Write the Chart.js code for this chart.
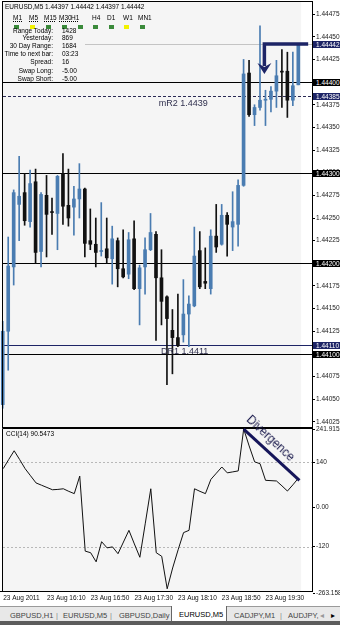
<!DOCTYPE html>
<html>
<head>
<meta charset="utf-8">
<title>EURUSD,M5</title>
<script src="https://cdn.jsdelivr.net/npm/chart.js@4.4.1/dist/chart.umd.min.js"></script>
<style>
  body { margin: 0; width: 340px; height: 625px; position: relative; overflow: hidden; background: #fff; font-family: "Liberation Sans", Arial, sans-serif; }
  canvas { position: absolute; left: 0; }
  .txt { position: absolute; white-space: nowrap; font-size: 6.5px; line-height: 8px; color: #000; }
  .lbl { left: 0; width: 53px; text-align: right; }
  .tf { text-decoration: underline dotted; }
  .sq { position: absolute; width: 5px; height: 4px; }
  .level { position: absolute; white-space: nowrap; font-size: 9px; line-height: 10px; color: #30304e; }
  .pbox { position: absolute; left: 313px; width: 24px; height: 7px; padding-left: 3px; font-size: 6.5px; line-height: 7px; color: #fff; overflow: hidden; white-space: nowrap; }
  #tabs { position: absolute; left: 0; top: 606px; width: 340px; height: 14px; background: #e8e8e8; border-top: 1px solid #9a9a9a; }
  #tabs span { position: absolute; top: 4px; font-size: 7.5px; line-height: 9px; color: #444; white-space: nowrap; }
  #activeTab { position: absolute; left: 171px; top: -1px; width: 54px; height: 15px; background: #fff; border: 1px solid #666; border-top: none; }
  #bottomBar { position: absolute; left: 0; top: 621px; width: 340px; height: 4px; background: #5c5c5c; }
  #divergence { position: absolute; left: 240px; top: 432px; font-size: 12px; line-height: 13px; color: #1b1b4d; transform: rotate(43deg); transform-origin: center; white-space: nowrap; }
</style>
</head>
<body>
<canvas id="priceChart" width="340" height="428" style="top:0"></canvas>
<canvas id="cciChart" width="340" height="181" style="top:424px"></canvas>

<div class="txt" id="header" style="left:5px;top:3px"></div>

<div class="txt tf" style="left:13px;top:14px">M1</div>
<div class="txt tf" style="left:29px;top:14px">M5</div>
<div class="txt tf" style="left:44px;top:14px">M15</div>
<div class="txt tf" style="left:59px;top:14px">M30</div>
<div class="txt tf" style="left:71px;top:14px">H1</div>
<div class="txt" style="left:92px;top:14px">H4</div>
<div class="txt" style="left:107px;top:14px">D1</div>
<div class="txt" style="left:123px;top:14px">W1</div>
<div class="txt" style="left:138px;top:14px">MN1</div>

<div class="sq" style="left:14px;top:25px;background:#3a8a3a"></div>
<div class="sq" style="left:30px;top:25px;background:#f2f200"></div>
<div class="sq" style="left:46px;top:25px;background:#3a8a3a"></div>
<div class="sq" style="left:62px;top:25px;background:#3a8a3a"></div>
<div class="sq" style="left:78px;top:25px;background:#3a8a3a"></div>
<div class="sq" style="left:93px;top:25px;background:#3a8a3a"></div>
<div class="sq" style="left:109px;top:25px;background:#3a8a3a"></div>
<div class="sq" style="left:124px;top:25px;background:#f2f200"></div>
<div class="sq" style="left:140px;top:25px;background:#3a8a3a"></div>

<div class="txt lbl" style="top:27px">Range Today:</div>
<div class="txt lbl" style="top:34px">Yesterday:</div>
<div class="txt lbl" style="top:42px">30 Day Range:</div>
<div class="txt lbl" style="top:50px">Time to next bar:</div>
<div class="txt lbl" style="top:58px">Spread:</div>
<div class="txt lbl" style="top:67px">Swap Long:</div>
<div class="txt lbl" style="top:75px">Swap Short:</div>
<div class="txt" style="left:62px;top:27px">1428</div>
<div class="txt" style="left:62px;top:34px">869</div>
<div class="txt" style="left:62px;top:42px">1684</div>
<div class="txt" style="left:62px;top:50px">03:23</div>
<div class="txt" style="left:62px;top:58px">16</div>
<div class="txt" style="left:62px;top:67px">-5.00</div>
<div class="txt" style="left:62px;top:75px">-5.00</div>

<div class="txt" id="cciLabel" style="left:6px;top:430px"></div>
<div id="divergence">Divergence</div>

<div id="tabs">
  <span style="left:10px">GBPUSD,H1</span>
  <span style="left:56px;color:#888">|</span>
  <span style="left:63px">EURUSD,M5</span>
  <span style="left:110px;color:#888">|</span>
  <span style="left:119px">GBPUSD,Daily</span>
  <div id="activeTab"><span style="left:7px;top:4px;color:#000">EURUSD,M5</span></div>
  <span style="left:234px">CADJPY,M1</span>
  <span style="left:280px;color:#888">|</span>
  <span style="left:288px">AUDJPY,</span>
  <span style="left:320px;color:#999">&#9666;</span>
  <span style="left:331px;color:#000">&#9656;</span>
</div>
<div id="bottomBar"></div>

<script>
// EURUSD M5 candles, 15:30 .. 20:00 (23 Aug 2011)
const candleOpen = [
  1.44044, 1.44125, 1.44196, 1.44265, 1.44278, 1.44246, 1.44290, 1.44213, 1.44275, 1.44257,
  1.44255, 1.44299, 1.44264, 1.44262, 1.44271, 1.44282, 1.44225, 1.44221, 1.44213, 1.44216,
  1.44205, 1.44225, 1.44194, 1.44188, 1.44227, 1.44172, 1.44196, 1.44215, 1.44232, 1.44184,
  1.44163, 1.44126, 1.44118, 1.44121, 1.44144, 1.44153, 1.44214, 1.44180, 1.44172, 1.44230,
  1.44221, 1.44253, 1.44240, 1.44243, 1.44286, 1.44410, 1.44364, 1.44372, 1.44380, 1.44381,
  1.44390, 1.44412, 1.44412, 1.44380, 1.44397
];
const candleHigh = [
  1.44136, 1.44229, 1.44281, 1.44318, 1.44299, 1.44303, 1.44304, 1.44278, 1.44297, 1.44272,
  1.44297, 1.44321, 1.44304, 1.44285, 1.44310, 1.44283, 1.44260, 1.44250, 1.44267, 1.44250,
  1.44241, 1.44228, 1.44237, 1.44234, 1.44247, 1.44198, 1.44228, 1.44255, 1.44235, 1.44215,
  1.44164, 1.44149, 1.44166, 1.44182, 1.44164, 1.44240, 1.44235, 1.44217, 1.44237, 1.44265,
  1.44265, 1.44256, 1.44279, 1.44292, 1.44425, 1.44424, 1.44375, 1.44462, 1.44391, 1.44395,
  1.44424, 1.44436, 1.44433, 1.44433, 1.44442
];
const candleLow = [
  1.44040, 1.44082, 1.44176, 1.44225, 1.44242, 1.44240, 1.44200, 1.44196, 1.44207, 1.44232,
  1.44215, 1.44243, 1.44241, 1.44231, 1.44250, 1.44207, 1.44215, 1.44196, 1.44208, 1.44200,
  1.44177, 1.44174, 1.44184, 1.44183, 1.44171, 1.44132, 1.44166, 1.44214, 1.44115, 1.44132,
  1.44066, 1.44078, 1.44108, 1.44113, 1.44108, 1.44152, 1.44172, 1.44172, 1.44166, 1.44212,
  1.44220, 1.44208, 1.44214, 1.44219, 1.44285, 1.44362, 1.44352, 1.44369, 1.44352, 1.44367,
  1.44372, 1.44372, 1.44361, 1.44374, 1.44397
];
const candleClose = [
  1.44125, 1.44197, 1.44278, 1.44274, 1.44247, 1.44288, 1.44212, 1.44276, 1.44254, 1.44256,
  1.44296, 1.44263, 1.44250, 1.44271, 1.44282, 1.44222, 1.44221, 1.44212, 1.44214, 1.44206,
  1.44227, 1.44194, 1.44185, 1.44226, 1.44172, 1.44195, 1.44215, 1.44234, 1.44184, 1.44158,
  1.44139, 1.44118, 1.44109, 1.44144, 1.44155, 1.44208, 1.44174, 1.44178, 1.44230, 1.44218,
  1.44253, 1.44243, 1.44246, 1.44286, 1.44409, 1.44364, 1.44372, 1.44380, 1.44381, 1.44390,
  1.44407, 1.44411, 1.44380, 1.44396, 1.44442
];
// CCI(14) per bar
const cciValues = [
  120, 148, 175, 148, 120, 98, 76, 69, 62, 55,
  56, 58, 50, 43, 97, -134, -139, -167, -105, -124,
  -121, -142, -106, -70, -112, -153, -48, 58, -139, -150,
  -250, -186, -130, -77, -70, 58, 50, 43, 87, 106,
  125, 107, 110, 113, 241.9152, 190, 141, 135, 84, 83,
  82, 67, 51, 70, 90.5473
];

const priceTicks = [1.44475, 1.44450, 1.44425, 1.44400, 1.44375, 1.44350, 1.44325, 1.44300, 1.44275,
  1.44250, 1.44225, 1.44200, 1.44175, 1.44150, 1.44125, 1.44100, 1.44075, 1.44050, 1.44025];
const cciTicks = [241.9152, 140, 0, -120, -263.158];
const cciTickLabels = ['241.9152', '140', '0.00', '-120', '-263.158'];
const cciLevels = [140, -120];
const timeTickBars = [0, 8, 16, 24, 32, 40, 48];
const timeTickLabels = ['23 Aug 2011', '23 Aug 16:10', '23 Aug 16:50', '23 Aug 17:30', '23 Aug 18:10', '23 Aug 18:50', '23 Aug 19:30'];

const roundLevels = [1.44400, 1.44300, 1.44200, 1.44100];
const bidPrice = 1.44442;
const mR2Price = 1.44385;
const dr1Price = 1.44110;

// hand drawn marks on the screenshot (bar index, value)
const arrowBar = 47.8, arrowEndBar = 55.8, arrowTip = 1.44409;
const divStart = [44, 241.9152], divEnd = [54.2, 84];

// two empty slots on the right = chart shift
const barLabels = candleOpen.map((_, i) => i).concat([55, 56]);

const FONT = '"Liberation Sans", Arial, sans-serif';
const BULL = '#4a7cb1';
const BEAR = '#111111';
const NAVY = '#1d2466';
Chart.defaults.font.family = FONT;

// pixel calibration taken from the reference axis labels
const REF_PRICE = 1.443, REF_Y = 172.7, PX_PER_PRICE = 90600;
const CCI_TOP_Y = 429, CCI_ZERO_Y = 507.6, CCI_PX = 0.3247;

const isBull = candleOpen.map((o, i) => candleClose[i] >= o);

function hLine(ctx, py, x0, x1, color, dash) {
    const yy = Math.round(py) + 0.5;
    ctx.beginPath();
    ctx.setLineDash(dash || []);
    ctx.strokeStyle = color;
    ctx.lineWidth = 1;
    ctx.moveTo(x0, yy);
    ctx.lineTo(x1, yy);
    ctx.stroke();
}

const priceDecor = {
    id: 'priceDecor',
    beforeDraw(chart) {
        const { ctx, chartArea: a, scales: { x } } = chart;
        const shift = x.getPixelForValue(candleClose.length - 1) + 3;
        ctx.save();
        ctx.fillStyle = '#f5f5f5';
        ctx.fillRect(3, 2, shift - 3, 425);
        ctx.fillStyle = '#ffffff';
        ctx.fillRect(shift, 2, a.right - shift, 425);
        ctx.restore();
    },
    beforeDatasetsDraw(chart) {
        const { ctx, chartArea: a, scales: { y } } = chart;
        ctx.save();
        hLine(ctx, y.getPixelForValue(bidPrice), 85, a.right, '#c4c4c4');
        roundLevels.forEach(p => hLine(ctx, y.getPixelForValue(p), 3, a.right, '#000'));
        hLine(ctx, y.getPixelForValue(dr1Price), 3, a.right, NAVY);
        hLine(ctx, y.getPixelForValue(mR2Price), 3, a.right, '#2a2a55', [3, 2]);
        ctx.restore();
    },
    afterDraw(chart) {
        const { ctx, chartArea: a, scales: { x, y } } = chart;
        ctx.save();
        ctx.strokeStyle = '#000';
        ctx.lineWidth = 1;
        ctx.strokeRect(2.5, 1.5, a.right - 2, 426);

        // arrow pointing at the new high
        const sx = x.getPixelForValue(arrowBar);
        const ex = x.getPixelForValue(arrowEndBar);
        const ty = y.getPixelForValue(bidPrice);
        const tip = y.getPixelForValue(arrowTip);
        ctx.strokeStyle = NAVY;
        ctx.fillStyle = NAVY;
        ctx.lineWidth = 3.5;
        ctx.lineJoin = 'miter';
        ctx.beginPath();
        ctx.moveTo(ex, ty);
        ctx.lineTo(sx, ty);
        ctx.lineTo(sx, tip - 8);
        ctx.stroke();
        ctx.beginPath();
        ctx.moveTo(sx - 7, tip - 11);
        ctx.lineTo(sx, tip - 7);
        ctx.lineTo(sx + 7, tip - 11);
        ctx.lineTo(sx, tip);
        ctx.closePath();
        ctx.fill();
        ctx.restore();
    }
};

const cciDecor = {
    id: 'cciDecor',
    beforeDraw(chart) {
        const { ctx, chartArea: a, scales: { x } } = chart;
        const shift = x.getPixelForValue(cciValues.length - 1) + 3;
        ctx.save();
        ctx.fillStyle = '#f5f5f5';
        ctx.fillRect(3, a.top, shift - 3, a.bottom - a.top);
        ctx.fillStyle = '#ffffff';
        ctx.fillRect(shift, a.top, a.right - shift, a.bottom - a.top);
        ctx.restore();
    },
    beforeDatasetsDraw(chart) {
        const { ctx, chartArea: a, scales: { y } } = chart;
        ctx.save();
        cciLevels.forEach(v => hLine(ctx, y.getPixelForValue(v), 3, a.right, '#b8b8b8', [2, 2]));
        ctx.restore();
    },
    afterDraw(chart) {
        const { ctx, chartArea: a, scales: { x, y } } = chart;
        ctx.save();
        ctx.strokeStyle = '#000';
        ctx.lineWidth = 1;
        const top = Math.round(a.top) - 0.5;
        ctx.beginPath();
        ctx.moveTo(2.5, a.bottom);
        ctx.lineTo(2.5, top);
        ctx.lineTo(a.right, top);
        ctx.stroke();

        // divergence trend line
        ctx.strokeStyle = '#15155a';
        ctx.lineWidth = 3;
        ctx.beginPath();
        ctx.moveTo(x.getPixelForValue(divStart[0]), y.getPixelForValue(divStart[1]));
        ctx.lineTo(x.getPixelForValue(divEnd[0]), y.getPixelForValue(divEnd[1]));
        ctx.stroke();
        ctx.restore();
    }
};

const priceChart = new Chart(document.getElementById('priceChart').getContext('2d'), {
    type: 'bar',
    data: {
        labels: barLabels,
        datasets: [{
            label: 'wick',
            data: candleLow.map((l, i) => [l, candleHigh[i]]),
            backgroundColor: isBull.map(b => b ? BULL : BEAR),
            barThickness: 1,
            grouped: false,
            order: 2
        }, {
            label: 'body',
            data: candleOpen.map((o, i) => [o, candleClose[i]]),
            backgroundColor: isBull.map(b => b ? BULL : BEAR),
            barThickness: 3,
            minBarLength: 1,
            grouped: false,
            order: 1
        }]
    },
    options: {
        responsive: false,
        animation: false,
        events: [],
        layout: { padding: 0 },
        plugins: { legend: { display: false }, tooltip: { enabled: false } },
        scales: {
            x: { display: false, offset: true },
            y: {
                position: 'right',
                bounds: 'data',
                min: 1.4402,
                max: 1.4449,
                afterFit: s => { s.width = 28; },
                afterBuildTicks: s => { s.ticks = priceTicks.map(v => ({ value: v })); },
                ticks: {
                    callback: v => Number(v).toFixed(5),
                    font: { size: 6.5 },
                    color: '#1a1a1a',
                    padding: 1
                },
                grid: { drawOnChartArea: false, tickLength: 3, color: '#000' },
                border: { color: '#000' }
            }
        }
    },
    plugins: [priceDecor]
});

const cciChart = new Chart(document.getElementById('cciChart').getContext('2d'), {
    type: 'line',
    data: {
        labels: barLabels,
        datasets: [{
            label: 'CCI(14)',
            data: cciValues,
            borderColor: '#111',
            borderWidth: 1,
            pointRadius: 0,
            tension: 0
        }]
    },
    options: {
        responsive: false,
        animation: false,
        events: [],
        layout: { padding: 0 },
        plugins: { legend: { display: false }, tooltip: { enabled: false } },
        scales: {
            x: {
                offset: true,
                grid: { display: false, drawTicks: false },
                border: { color: '#000' },
                ticks: {
                    autoSkip: false,
                    maxRotation: 0,
                    minRotation: 0,
                    align: 'start',
                    padding: 3,
                    font: { size: 6.5 },
                    color: '#111',
                    callback: (v, i) => {
                        const k = timeTickBars.indexOf(i);
                        return k >= 0 ? timeTickLabels[k] : '';
                    }
                }
            },
            y: {
                position: 'right',
                bounds: 'data',
                min: -263.158,
                max: 241.9152,
                afterFit: s => { s.width = 28; },
                afterBuildTicks: s => { s.ticks = cciTicks.map(v => ({ value: v })); },
                ticks: {
                    callback: (v, i) => cciTickLabels[i],
                    font: { size: 6.5 },
                    color: '#1a1a1a',
                    padding: 1
                },
                grid: { drawOnChartArea: false, tickLength: 3, color: '#000' },
                border: { color: '#000' }
            }
        }
    },
    plugins: [cciDecor]
});

// match the price/pixel scale of the reference
function calibrate() {
    const pa = priceChart.chartArea;
    priceChart.options.scales.y.max = REF_PRICE + (REF_Y - pa.top) / PX_PER_PRICE;
    priceChart.options.scales.y.min = REF_PRICE - (pa.bottom - REF_Y) / PX_PER_PRICE;
    priceChart.update();

    // slide the indicator canvas so its plot starts right under the price panel
    const ca = cciChart.chartArea;
    const canvasTop = Math.round(CCI_TOP_Y - ca.top);
    cciChart.canvas.style.top = canvasTop + 'px';
    const zero = CCI_ZERO_Y - canvasTop;
    cciChart.options.scales.y.max = (zero - ca.top) / CCI_PX;
    cciChart.options.scales.y.min = (zero - ca.bottom) / CCI_PX;
    cciChart.update();
}
calibrate();

function addPriceBox(price, bg) {
    const py = priceChart.scales.y.getPixelForValue(price);
    const d = document.createElement('div');
    d.className = 'pbox';
    d.style.top = (Math.round(py) - 3) + 'px';
    d.style.background = bg;
    d.textContent = price.toFixed(5);
    document.body.appendChild(d);
}

function addLevelText(text, bar, price, dy) {
    const d = document.createElement('div');
    d.className = 'level';
    d.textContent = text;
    d.style.left = priceChart.scales.x.getPixelForValue(bar) + 'px';
    d.style.top = (priceChart.scales.y.getPixelForValue(price) + dy) + 'px';
    document.body.appendChild(d);
}

roundLevels.forEach(p => addPriceBox(p, '#000'));
addPriceBox(bidPrice, NAVY);
addPriceBox(mR2Price, NAVY);
addPriceBox(dr1Price, NAVY);

addLevelText('mR2  ' + mR2Price.toFixed(4), 28.5, mR2Price, 2);
addLevelText('DR1  ' + dr1Price.toFixed(4), 28.9, dr1Price, 1);

const last = candleClose.length - 1;
document.getElementById('header').textContent = 'EURUSD,M5  ' +
    [candleOpen[last], candleHigh[last], candleLow[last], candleClose[last]].map(v => v.toFixed(5)).join(' ');
document.getElementById('cciLabel').textContent = 'CCI(14) ' + cciValues[cciValues.length - 1].toFixed(4);
</script>
</body>
</html>
